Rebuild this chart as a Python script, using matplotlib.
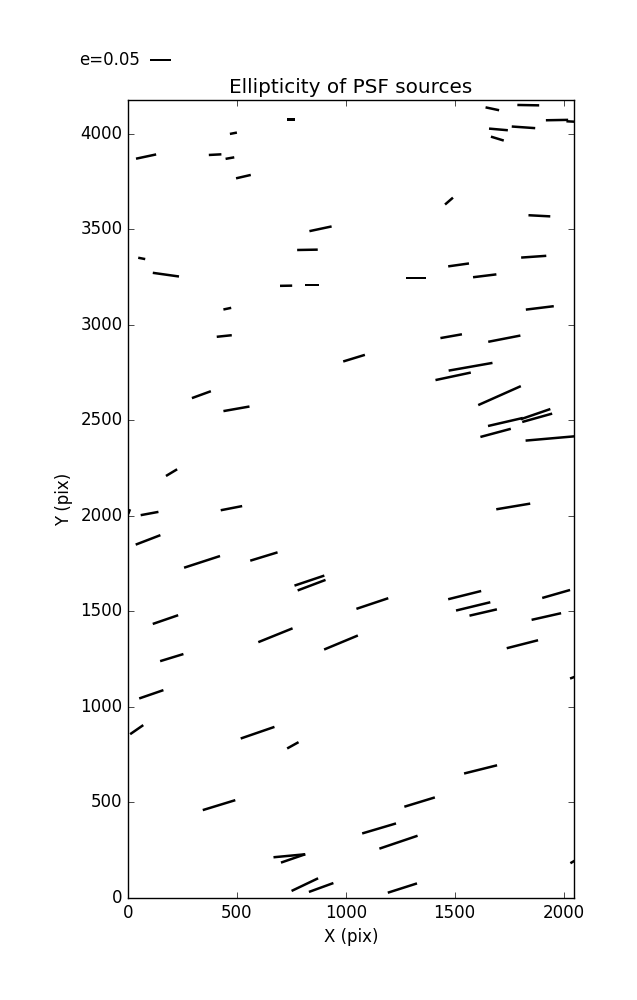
import numpy as np
import matplotlib
matplotlib.use("Agg")
import matplotlib.pyplot as plt

# PSF source positions (pix), ellipticity and position angle (deg)
x = [749, 484, 83, 400, 468, 530, 884, 824, 63, 174, 726, 845,
     1673, 1838, 1970, 2041, 1701, 1816, 1696, 1474, 1889, 1863, 1518, 1323, 1638,
     456, 442, 1038, 337, 498, 200, 475,
     1891, 1484, 1728, 1573, 1493, 1706, 1733, 1871, 1879, 1688, 1940, 1769,
     5, 99, 92, 340, 624, 833, 843, 172, 677, 978, 201, 107,
     1122, 1546, 1585, 1631, 1966, 1921, 1811, 2048,
     40, 595, 757, 418, 741, 758, 812, 887,
     1619, 1339, 1153, 1242, 1260, 2048]
y = [4075, 4002, 3880, 3890, 3872, 3775, 3502, 3392, 3347, 3262, 3204, 3209,
     4130, 4149, 4071, 4063, 4022, 4033, 3974, 3647, 3570, 3356, 3313, 3245, 3256,
     3084, 2941, 2825, 2634, 2560, 2226, 2040,
     3088, 2940, 2927, 2780, 2730, 2629, 2491, 2532, 2513, 2434, 2405, 2049,
     2022, 2012, 1874, 1759, 1787, 1661, 1637, 1457, 1375, 1337, 1258, 1066,
     1541, 1585, 1526, 1494, 1591, 1473, 1328, 1156,
     881, 865, 799, 486, 221, 207, 70, 55,
     673, 502, 364, 292, 52, 193]
e = [0.019, 0.017, 0.049, 0.030, 0.021, 0.036, 0.054, 0.049, 0.017, 0.063, 0.029, 0.034,
     0.033, 0.052, 0.053, 0.029, 0.045, 0.056, 0.032, 0.025, 0.052, 0.060, 0.050, 0.048, 0.056,
     0.019, 0.036, 0.054, 0.048, 0.063, 0.031, 0.052,
     0.067, 0.052, 0.078, 0.106, 0.086, 0.111, 0.085, 0.075, 0.074, 0.075, 0.119, 0.082,
     0.012, 0.043, 0.063, 0.090, 0.068, 0.075, 0.071, 0.064, 0.088, 0.087, 0.058, 0.061,
     0.080, 0.081, 0.084, 0.067, 0.069, 0.072, 0.077, 0.020,
     0.038, 0.085, 0.031, 0.081, 0.076, 0.061, 0.070, 0.062,
     0.081, 0.076, 0.084, 0.096, 0.073, 0.020]
theta = [0, 11, 12, 3, 10, 13, 12, 1, -11, -8, 1, 0,
         -12, -1, 1, -3, -5, -4, -17, 41, -3, 4, 8, 0, 7,
         12, 6, 17, 20, 10, 31, 11,
         7, 10, 11, 10, 12, 24, 13, 19, 15.6, 15, 5, 9.5,
         70, 10.5, 21, 18, 17, 18.6, 20.7, 19, 22, 22.6, 17, 19,
         18.5, 14, 13.6, 13, 16, 12.7, 14.3, 20,
         34.7, 19, 29, 17, 5.4, 19, 25.5, 20,
         14, 17, 16.5, 18.7, 17.7, 30]

x = np.array(x)
y = np.array(y)
e = np.array(e)
th = np.radians(theta)
u = e * np.cos(th)
v = e * np.sin(th)

plt.style.use("classic")
plt.rcParams["figure.facecolor"] = "white"
plt.rcParams["savefig.facecolor"] = "white"

fig = plt.figure(figsize=(6.37, 10), dpi=100)
ax = fig.add_axes([128 / 637, 102 / 1000, 446 / 637, 798 / 1000])

Q = ax.quiver(x, y, u, v, pivot="middle", headwidth=0, headlength=0,
              headaxislength=0, scale_units="inches", scale=0.05 / 0.21,
              width=0.0056, color="k")
ax.quiverkey(Q, 149.5 / 637, 0.94, 0.05, "e=0.05", labelpos="W",
             coordinates="figure")

ax.set_xlim(0, 2048)
ax.set_ylim(0, 4176)
ax.set_xticks([0, 500, 1000, 1500, 2000])
ax.set_yticks(np.arange(0, 4001, 500))
ax.set_xlabel("X (pix)")
ax.set_ylabel("Y (pix)")
ax.set_title("Ellipticity of PSF sources")

fig.savefig("out.png", dpi=100)
